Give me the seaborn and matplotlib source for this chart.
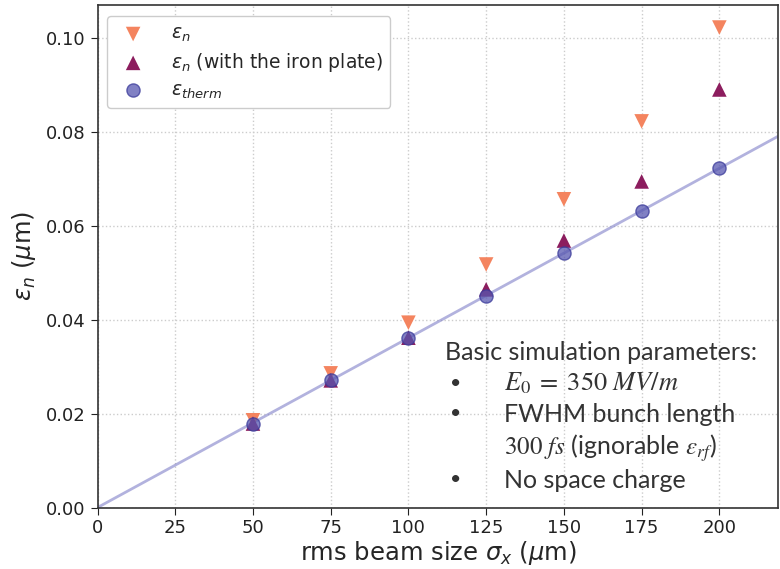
import numpy as np
import pandas as pd
import matplotlib
matplotlib.use("Agg")
import matplotlib.pyplot as plt
import seaborn as sns

sigma_x = [50, 75, 100, 125, 150, 175, 200]
eps_n = [0.0186, 0.0286, 0.0394, 0.0518, 0.0657, 0.0823, 0.1023]
eps_n_iron = [0.0179, 0.0271, 0.0362, 0.0465, 0.0569, 0.0695, 0.0891]
eps_therm = [0.0179, 0.0271, 0.0362, 0.0450, 0.0542, 0.0633, 0.0723]
fit_x = [0, 225]
fit_slope = 0.0003615

sns.set_style("ticks")
plt.rcParams['font.family'] = ['DejaVu Sans']
plt.rcParams['mathtext.fontset'] = 'dejavusans'

fig, ax = plt.subplots(figsize=(7.8, 5.69), dpi=100)
fig.subplots_adjust(left=0.125, right=0.998, top=0.992, bottom=0.108)

df = pd.DataFrame({"x": sigma_x, "a": eps_n, "b": eps_n_iron, "c": eps_therm})
fit = pd.DataFrame({"x": fit_x, "y": [v * fit_slope for v in fit_x]})

sns.lineplot(data=fit, x="x", y="y", ax=ax, color="#8080c8", alpha=0.6, lw=2, zorder=2)
sns.scatterplot(data=df, x="x", y="a", ax=ax, marker="v", s=110, color="#f4845f",
                edgecolor="none", label=r"$\varepsilon_n$", zorder=3)
sns.scatterplot(data=df, x="x", y="b", ax=ax, marker="^", s=110, color="#8c1d5e",
                edgecolor="none", label=r"$\varepsilon_n$ (with the iron plate)", zorder=4)
sns.scatterplot(data=df, x="x", y="c", ax=ax, marker="o", s=90, color="#5757b0",
                alpha=0.75, edgecolor="#3a3a9a", linewidth=1, label=r"$\varepsilon_{therm}$", zorder=5)

ax.set_xlim(0, 219)
ax.set_ylim(0, 0.1072)
ax.set_xticks([0, 25, 50, 75, 100, 125, 150, 175, 200])
ax.set_yticks([0.0, 0.02, 0.04, 0.06, 0.08, 0.10])
ax.set_yticklabels(["0.00", "0.02", "0.04", "0.06", "0.08", "0.10"])
ax.grid(True, linestyle=":", color="#cccccc", lw=1)
for s in ax.spines.values():
    s.set_color("#333333")
    s.set_linewidth(1.2)
ax.tick_params(labelsize=13, colors="#222222", length=5)
ax.set_xlabel(r"rms beam size $\sigma_x$ ($\mu$m)", fontsize=17.5, labelpad=1)
ax.set_ylabel(r"$\varepsilon_n$ ($\mu$m)", fontsize=17.5, labelpad=6)

leg = ax.legend(loc="upper left", fontsize=13.5, frameon=True, framealpha=1, borderpad=0.4,
                handletextpad=1.0, labelspacing=0.35, bbox_to_anchor=(0.0, 0.995))
leg.get_frame().set_edgecolor("#cccccc")

tf = dict(fontsize=18, color="#333333", family="Lato", transform=fig.transFigure)
fig.text(445/780, 1 - 352/569, "Basic simulation parameters:", va="center", **tf)
for yy in [383, 414, 480]:
    fig.text(450/780, 1 - yy/569, "•", va="center", fontsize=14, color="#333333",
             family="Lato", transform=fig.transFigure)
fig.text(504/780, 1 - 383/569, r"$E_0\;=\;350\ MV/m$", va="center", fontsize=19,
         color="#333333", math_fontfamily="stix", transform=fig.transFigure)
fig.text(504/780, 1 - 414/569, "FWHM bunch length", va="center", **tf)
fig.text(504/780, 1 - 448/569, r"$300\ fs$ (ignorable $\varepsilon_{rf}$)", va="center",
         fontsize=18, color="#333333", family="Lato", math_fontfamily="stix",
         transform=fig.transFigure)
fig.text(504/780, 1 - 480/569, "No space charge", va="center", **tf)

fig.savefig("out.png", dpi=100)
